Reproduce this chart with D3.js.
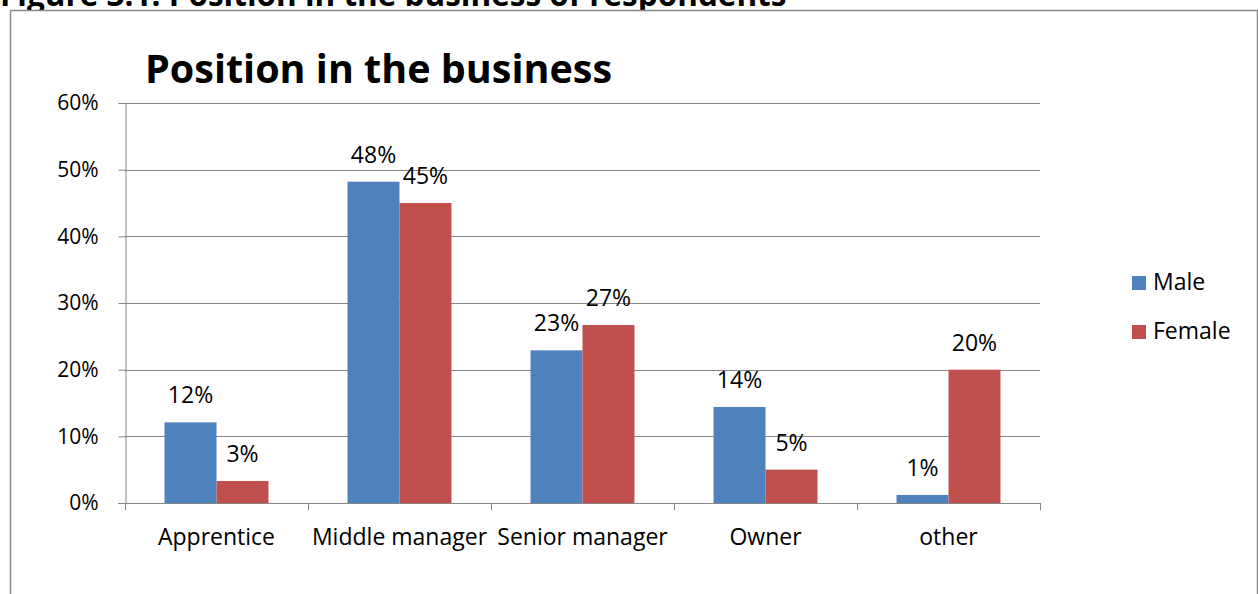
<!DOCTYPE html>
<html>
<head>
<meta charset="utf-8">
<script src="https://cdn.jsdelivr.net/npm/d3@7"></script>
<style>
  html, body { margin: 0; padding: 0; background: #fff; }
  body { width: 1258px; height: 594px; overflow: hidden; }
  text { font-family: "Open Sans", "Noto Sans", sans-serif; fill: #000; }
</style>
</head>
<body>
<div id="chart"></div>
<script>
const categories = ['Apprentice', 'Middle manager', 'Senior manager', 'Owner', 'other'];
const seriesNames = ['Male', 'Female'];
const maleValues = [0.121, 0.482, 0.229, 0.144, 0.012];
const femaleValues = [0.033, 0.450, 0.267, 0.050, 0.200];
const yTicks = [0, 0.1, 0.2, 0.3, 0.4, 0.5, 0.6];
const colors = ['#4F81BD', '#C0504D'];

const W = 1258, H = 594;
const plot = { left: 125, right: 1040, top: 103, bottom: 503 };

const svg = d3.select('#chart').append('svg')
  .attr('width', W).attr('height', H);

// figure caption, mostly cut off at the top as in the source page
svg.append('text')
  .attr('x', 0).attr('y', 6)
  .attr('font-family', 'Liberation Sans, Arial, sans-serif')
  .attr('font-weight', 'bold').attr('font-size', 31.5)
  .text('Figure 3.1: Position in the business of respondents');

// chart frame
svg.append('rect')
  .attr('x', 10.5).attr('y', 10.5)
  .attr('width', 1247).attr('height', 600)
  .attr('fill', '#fff')
  .attr('stroke', '#8a8a8a').attr('stroke-width', 1.5);

// title
svg.append('text')
  .attr('x', 145).attr('y', 83)
  .attr('font-weight', 'bold').attr('font-size', 39.5)
  .text('Position in the business');

const x0 = d3.scaleBand().domain(categories)
  .range([plot.left, plot.right]).paddingInner(0.432).paddingOuter(0.216);
const x1 = d3.scaleBand().domain(seriesNames).range([0, x0.bandwidth()]);
const y = d3.scaleLinear().domain([0, 0.6]).range([plot.bottom, plot.top]);

// gridlines
svg.append('g')
  .selectAll('line').data(yTicks.filter(d => d > 0)).join('line')
  .attr('x1', plot.left).attr('x2', plot.right)
  .attr('y1', d => Math.round(y(d)) + 0.5).attr('y2', d => Math.round(y(d)) + 0.5)
  .attr('stroke', '#868686').attr('stroke-width', 1);

// y axis
const yAxis = svg.append('g')
  .attr('transform', `translate(${plot.left + 0.5},0)`)
  .call(d3.axisLeft(y).tickValues(yTicks).tickFormat(d3.format('.0%')).tickSize(7).tickPadding(20));
yAxis.select('.domain').attr('stroke', '#868686');
yAxis.selectAll('line').attr('stroke', '#868686');
yAxis.selectAll('text').attr('font-size', 21).attr('fill', '#000')
  .attr('font-family', '"Open Sans", sans-serif');

// bars
const data = categories.map((c, i) => ({ cat: c, vals: [maleValues[i], femaleValues[i]] }));
const groups = svg.append('g').selectAll('g').data(data).join('g')
  .attr('transform', d => `translate(${x0(d.cat)},0)`);

groups.selectAll('rect').data(d => d.vals.map((v, j) => ({ v, s: seriesNames[j], j })))
  .join('rect')
  .attr('x', d => x1(d.s)).attr('width', x1.bandwidth())
  .attr('y', d => y(d.v)).attr('height', d => y(0) - y(d.v))
  .attr('fill', d => colors[d.j]);

groups.selectAll('text').data(d => d.vals.map((v, j) => ({ v, s: seriesNames[j] })))
  .join('text')
  .attr('x', d => x1(d.s) + x1.bandwidth() / 2)
  .attr('y', d => y(d.v) - 19)
  .attr('text-anchor', 'middle').attr('font-size', 23)
  .text(d => d3.format('.0%')(d.v));

// x axis
const xEdges = d3.range(categories.length + 1)
  .map(i => plot.left + i * (plot.right - plot.left) / categories.length);
svg.append('line')
  .attr('x1', plot.left - 7).attr('x2', plot.right)
  .attr('y1', plot.bottom + 0.5).attr('y2', plot.bottom + 0.5)
  .attr('stroke', '#868686');
svg.append('g').selectAll('line').data(xEdges).join('line')
  .attr('x1', d => Math.round(d) + 0.5).attr('x2', d => Math.round(d) + 0.5)
  .attr('y1', plot.bottom).attr('y2', plot.bottom + 7)
  .attr('stroke', '#868686');
svg.append('g').selectAll('text').data(categories).join('text')
  .attr('x', d => x0(d) + x0.bandwidth() / 2)
  .attr('y', 545)
  .attr('text-anchor', 'middle').attr('font-size', 23)
  .text(d => d);

// legend
const legend = svg.append('g').selectAll('g').data(seriesNames).join('g')
  .attr('transform', (d, i) => `translate(1132,${276 + i * 49})`);
legend.append('rect').attr('width', 14).attr('height', 14)
  .attr('fill', (d, i) => colors[i]);
legend.append('text').attr('x', 21).attr('y', 14)
  .attr('font-size', 23).text(d => d);
</script>
</body>
</html>
